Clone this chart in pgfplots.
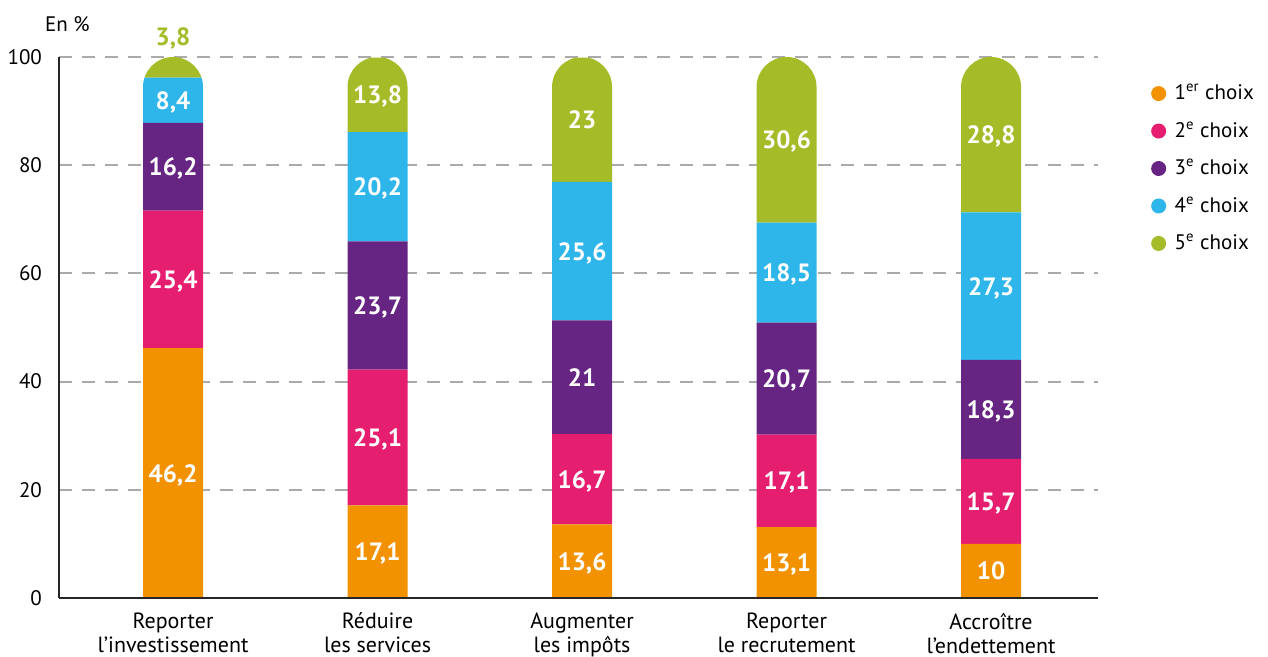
\documentclass[border=0pt]{standalone}
\usepackage{pgfplots}
\pgfplotsset{compat=1.18}
\usepackage{pgfplotstable}
\usepackage{fontspec}
\setmainfont{PT Sans}
\definecolor{c1}{RGB}{243,146,0}
\definecolor{c2}{RGB}{230,30,112}
\definecolor{c3}{RGB}{102,36,131}
\definecolor{c4}{RGB}{46,181,233}
\definecolor{c5}{RGB}{166,187,40}
\definecolor{gridgray}{RGB}{170,170,170}
\pgfplotstableread{
x c1 c2 c3 c4 c5
0 46.2 25.4 16.2 8.4 3.8
1 17.1 25.1 23.7 20.2 13.8
2 13.6 16.7 21 25.6 23
3 13.1 17.1 20.7 18.5 30.6
4 10 15.7 18.3 27.3 28.8
}\datatable
\pgfplotstableread{
x y lab
0 23.1 46,2
0 58.9 25,4
0 79.7 16,2
0 92.0 8,4
1 8.55 17,1
1 29.65 25,1
1 54.05 23,7
1 76.0 20,2
1 93.0 13,8
2 6.8 13,6
2 21.95 16,7
2 40.8 21
2 64.1 25,6
2 88.4 23
3 6.55 13,1
3 21.65 17,1
3 40.55 20,7
3 60.15 18,5
3 84.7 30,6
4 5 10
4 17.85 15,7
4 34.85 18,3
4 57.65 27,3
4 85.7 28,8
}\labeltable
\pgfplotstableread{
x y lab
0 103.7 3,8
}\toplabel
\pgfplotsset{common/.style={scale only axis, width=519.5pt, height=270.5pt,
  xmin=-0.5575, xmax=4.523, ymin=0, ymax=100,
  at={(29.5pt,29.5pt)}, anchor=south west}}
\newcommand\barclip{\clip[rounded corners=15pt]
  (axis cs:0,100) ++(-15pt,0pt) rectangle ++(30pt,-400pt)
  (axis cs:1,100) ++(-15pt,0pt) rectangle ++(30pt,-400pt)
  (axis cs:2,100) ++(-15pt,0pt) rectangle ++(30pt,-400pt)
  (axis cs:3,100) ++(-15pt,0pt) rectangle ++(30pt,-400pt)
  (axis cs:4,100) ++(-15pt,0pt) rectangle ++(30pt,-400pt);}
\begin{document}
\begin{tikzpicture}
\useasboundingbox (0,0) rectangle (634pt,328.5pt);
\begin{axis}[common, ybar stacked, bar width=30pt,
  axis line style={draw=none}, major tick length=0pt,
  ytick={0,20,...,100}, ymajorgrids,
  major grid style={gridgray, line width=1pt, dash pattern=on 6.5pt off 5pt},
  /pgf/number format/assume math mode=true,
  yticklabel style={font=\fontsize{10.5}{12}\selectfont, anchor=east, xshift=-5pt},
  xtick={0,...,4},
  xticklabels={{Reporter\\l’investissement},{Réduire\\les services},{Augmenter\\les impôts},{Reporter\\le recrutement},{Accroître\\l’endettement}},
  xticklabel style={align=center, font=\fontsize{11}{12}\selectfont, yshift=-4pt},
  legend style={draw=none, at={(1.045,0.965)}, anchor=north west, font=\fontsize{10.5}{12}\selectfont, row sep=5.5pt, fill=none},
  legend cell align=left,
  legend image code/.code={\fill[#1] (0pt,0pt) circle (3.75pt); \path (6pt,0pt);},
  every axis plot/.append style={execute at begin plot visualization={\barclip}},
]
\addplot[fill=c1, draw=none] table[x=x, y=c1]{\datatable};
\addplot[fill=c2, draw=none] table[x=x, y=c2]{\datatable};
\addplot[fill=c3, draw=none] table[x=x, y=c3]{\datatable};
\addplot[fill=c4, draw=none] table[x=x, y=c4]{\datatable};
\addplot[fill=c5, draw=none] table[x=x, y=c5]{\datatable};
\legend{1\textsuperscript{er} choix, 2\textsuperscript{e} choix, 3\textsuperscript{e} choix, 4\textsuperscript{e} choix, 5\textsuperscript{e} choix}
\end{axis}
\begin{axis}[common, axis x line*=bottom, axis y line*=left, xtick=\empty, ytick=\empty,
  clip=false, axis line style={line width=0.8pt, black!85}]
\addplot[only marks, mark=*, mark size=0pt, mark options={opacity=0}, nodes near coords,
  point meta=explicit symbolic,
  every node near coord/.append style={anchor=center, font=\fontsize{12.5}{14}\selectfont\bfseries, text=white, text opacity=1, text height=9pt, text depth=0pt}]
  table[meta=lab]{\labeltable};
\addplot[only marks, mark=*, mark size=0pt, mark options={opacity=0}, nodes near coords,
  point meta=explicit symbolic,
  every node near coord/.append style={anchor=center, font=\fontsize{12.5}{14}\selectfont\bfseries, text=c5, text opacity=1, text height=9pt, text depth=0pt}]
  table[meta=lab]{\toplabel};
\node[anchor=west, xshift=-10.5pt, yshift=16.5pt, font=\fontsize{10.5}{12}\selectfont] at (rel axis cs:0,1) {En \%};
\end{axis}
\end{tikzpicture}
\end{document}
